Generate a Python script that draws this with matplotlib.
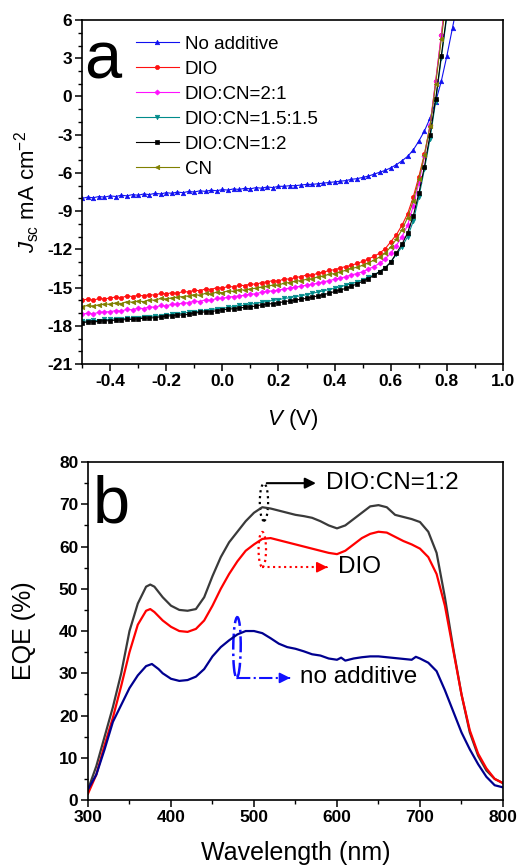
import matplotlib
matplotlib.use('Agg')
import matplotlib.pyplot as plt
from matplotlib.patches import Ellipse
from matplotlib.ticker import MultipleLocator, FormatStrFormatter

plt.rcParams['font.family'] = ['Liberation Sans', 'DejaVu Sans']
plt.rcParams['mathtext.fontset'] = 'custom'
plt.rcParams['mathtext.rm'] = 'Liberation Sans'
plt.rcParams['mathtext.it'] = 'Liberation Sans:italic'
plt.rcParams['axes.unicode_minus'] = False

# ---------------- Panel a data (J-V) ----------------
V = [-0.50, -0.48, -0.46, -0.44, -0.42, -0.40, -0.38, -0.36, -0.34, -0.32,
     -0.30, -0.28, -0.26, -0.24, -0.22, -0.20, -0.18, -0.16, -0.14, -0.12,
     -0.10, -0.08, -0.06, -0.04, -0.02, 0.00, 0.02, 0.04, 0.06, 0.08,
     0.10, 0.12, 0.14, 0.16, 0.18, 0.20, 0.22, 0.24, 0.26, 0.28,
     0.30, 0.32, 0.34, 0.36, 0.38, 0.40, 0.42, 0.44, 0.46, 0.48,
     0.50, 0.52, 0.54, 0.56, 0.58, 0.60, 0.62, 0.64, 0.66, 0.68,
     0.70, 0.72, 0.74, 0.76, 0.78, 0.80, 0.82, 0.84]

J_none = [-8.0, -7.9, -7.95, -7.85, -7.9, -7.8, -7.85, -7.75, -7.8, -7.7,
          -7.75, -7.65, -7.7, -7.6, -7.65, -7.55, -7.6, -7.5, -7.55, -7.45,
          -7.5, -7.4, -7.45, -7.35, -7.4, -7.3, -7.35, -7.25, -7.3, -7.2,
          -7.25, -7.15, -7.2, -7.1, -7.15, -7.05, -7.05, -7.0, -7.0, -6.95,
          -6.9, -6.9, -6.85, -6.8, -6.75, -6.7, -6.65, -6.6, -6.5, -6.45,
          -6.35, -6.25, -6.1, -5.95, -5.8, -5.6, -5.35, -5.05, -4.7, -4.2,
          -3.5, -2.7, -1.7, -0.4, 1.2, 3.2, 5.4, 7.6]

J_dio = [-16.0, -15.9, -16.0, -15.85, -15.9, -15.8, -15.75, -15.8, -15.65, -15.7,
         -15.6, -15.65, -15.55, -15.6, -15.45, -15.5, -15.4, -15.45, -15.3, -15.35,
         -15.2, -15.25, -15.1, -15.15, -15.0, -15.05, -14.9, -14.95, -14.8, -14.85,
         -14.7, -14.75, -14.6, -14.55, -14.45, -14.5, -14.3, -14.35, -14.2, -14.15,
         -14.0, -14.05, -13.85, -13.8, -13.65, -13.6, -13.45, -13.35, -13.25, -13.1,
         -12.95, -12.75, -12.55, -12.3, -11.95, -11.4, -10.85, -10.1, -9.2, -7.9,
         -6.3, -4.5, -2.3, 1.2, 4.8, 8.5, 12.0, 15.0]

J_21 = [-17.1, -17.0, -17.05, -16.95, -16.9, -16.9, -16.8, -16.85, -16.7, -16.75,
        -16.6, -16.65, -16.5, -16.55, -16.4, -16.45, -16.3, -16.3, -16.2, -16.2,
        -16.05, -16.1, -15.95, -16.0, -15.85, -15.85, -15.75, -15.7, -15.65, -15.6,
        -15.5, -15.5, -15.35, -15.3, -15.25, -15.2, -15.1, -15.05, -14.95, -14.9,
        -14.8, -14.75, -14.65, -14.55, -14.45, -14.35, -14.25, -14.15, -14.0, -13.9,
        -13.75, -13.55, -13.35, -13.1, -12.75, -12.3, -11.7, -11.0, -10.1, -8.6,
        -6.8, -4.7, -2.2, 1.2, 4.8, 8.2, 11.0, 15.0]

J_1515 = [-17.6, -17.65, -17.55, -17.6, -17.5, -17.5, -17.45, -17.45, -17.4, -17.4,
          -17.35, -17.3, -17.3, -17.2, -17.25, -17.15, -17.1, -17.05, -17.0, -16.95,
          -16.9, -16.85, -16.8, -16.75, -16.65, -16.65, -16.55, -16.5, -16.4, -16.4,
          -16.3, -16.25, -16.15, -16.1, -16.0, -15.95, -15.85, -15.8, -15.7, -15.65,
          -15.55, -15.45, -15.35, -15.25, -15.15, -15.05, -14.95, -14.8, -14.7, -14.55,
          -14.4, -14.2, -14.0, -13.75, -13.45, -13.0, -12.4, -11.8, -11.0, -9.8,
          -7.9, -5.7, -3.3, -0.4, 3.0, 6.3, 10.0, 14.0]

J_12 = [-17.75, -17.7, -17.7, -17.65, -17.6, -17.6, -17.55, -17.55, -17.5, -17.5,
        -17.45, -17.4, -17.4, -17.35, -17.3, -17.25, -17.2, -17.15, -17.15, -17.1,
        -17.0, -16.95, -16.9, -16.9, -16.8, -16.75, -16.7, -16.65, -16.6, -16.55,
        -16.5, -16.45, -16.35, -16.3, -16.25, -16.2, -16.1, -16.05, -16.0, -15.9,
        -15.85, -15.75, -15.65, -15.55, -15.45, -15.3, -15.2, -15.05, -14.9, -14.7,
        -14.5, -14.3, -14.05, -13.75, -13.45, -13.0, -12.3, -11.6, -10.7, -9.4,
        -7.6, -5.5, -3.0, -0.2, 3.2, 6.5, 10.0, 14.0]

J_cn = [-16.5, -16.4, -16.45, -16.35, -16.3, -16.3, -16.2, -16.25, -16.1, -16.15,
        -16.05, -16.1, -15.95, -16.0, -15.85, -15.9, -15.8, -15.75, -15.7, -15.65,
        -15.55, -15.6, -15.45, -15.5, -15.35, -15.4, -15.25, -15.3, -15.15, -15.2,
        -15.1, -15.05, -14.95, -14.9, -14.8, -14.8, -14.65, -14.6, -14.5, -14.45,
        -14.35, -14.3, -14.15, -14.1, -13.95, -13.9, -13.75, -13.65, -13.5, -13.4,
        -13.25, -13.05, -12.85, -12.6, -12.3, -11.8, -11.2, -10.45, -9.5, -8.2,
        -6.5, -4.6, -2.3, 1.0, 4.5, 8.0, 11.0, 15.0]

jv_labels = ['No additive', 'DIO', 'DIO:CN=2:1', 'DIO:CN=1.5:1.5', 'DIO:CN=1:2', 'CN']
jv_series = [J_none, J_dio, J_21, J_1515, J_12, J_cn]
jv_colors = ['#1010f0', '#ff1010', '#ff10ff', '#008b8b', '#000000', '#808000']
jv_markers = ['^', 'o', 'D', 'v', 's', '<']
jv_msize = [3.2, 3.0, 2.6, 3.2, 2.8, 3.2]

# ---------------- Panel b data (EQE) ----------------
wl = [300, 310, 320, 330, 340, 350, 360, 370, 375, 380, 390, 400, 410, 420, 430,
      440, 450, 460, 470, 480, 490, 500, 510, 520, 530, 540, 550, 560, 570, 580,
      590, 600, 610, 620, 630, 640, 650, 660, 670, 680, 690, 700, 710, 720, 730,
      740, 750, 760, 770, 780, 790, 800]
eqe_12 = [2.5, 8.0, 15.0, 22.0, 30.0, 40.0, 46.5, 50.5, 51.0, 50.5, 48.0, 46.0, 45.0, 44.8, 45.2,
          48.0, 53.0, 57.5, 61.0, 63.5, 66.0, 68.0, 69.3, 69.0, 68.5, 68.0, 67.5, 67.2, 66.8, 66.0,
          65.0, 64.3, 65.0, 66.5, 68.0, 69.5, 69.8, 69.3, 67.5, 67.0, 66.5, 65.8, 63.5, 58.5, 48.0,
          36.0, 25.0, 16.0, 10.5, 7.0, 5.0, 4.0]
eqe_dio = [1.5, 6.0, 13.0, 19.5, 27.0, 35.0, 41.5, 44.8, 45.2, 44.5, 42.5, 41.0, 40.0, 39.8, 40.5,
           42.5, 46.0, 50.0, 53.5, 56.5, 59.0, 60.5, 61.8, 62.0, 61.5, 61.0, 60.5, 60.0, 59.5, 59.0,
           58.5, 58.2, 59.0, 60.5, 62.0, 63.0, 63.5, 63.3, 62.3, 61.3, 60.5, 59.5, 57.5, 53.5, 46.0,
           35.5, 25.0, 16.5, 11.0, 7.5, 5.0, 4.0]
wl_none = [300, 310, 320, 330, 340, 350, 360, 370, 377, 385, 390, 400, 410, 420, 430,
           440, 450, 460, 470, 480, 490, 500, 510, 520, 530, 540, 550, 560, 570, 580,
           590, 600, 605, 610, 620, 630, 640, 650, 660, 670, 680, 690, 695, 700, 710,
           720, 730, 740, 750, 760, 770, 780, 790, 800]
eqe_none = [2.5, 6.0, 12.0, 18.5, 22.5, 26.5, 29.5, 31.7, 32.2, 31.0, 30.0, 28.7, 28.2, 28.4, 29.2,
            31.0, 34.0, 36.2, 37.8, 39.2, 40.0, 40.0, 39.5, 38.3, 37.0, 36.2, 35.8, 35.2, 34.5, 34.2,
            33.5, 33.2, 33.7, 33.0, 33.5, 33.8, 34.0, 34.0, 33.8, 33.6, 33.4, 33.2, 33.9, 33.5, 32.5,
            30.5, 26.0, 21.0, 16.0, 12.0, 8.5, 5.5, 3.5, 3.0]

fig = plt.figure(figsize=(5.17, 8.68), dpi=100)
ax1 = fig.add_axes([0.1586, 0.5806, 0.8144, 0.3963])
ax2 = fig.add_axes([0.1702, 0.0783, 0.8027, 0.3894])

# ---- panel a ----
for lab, ys, c, m, ms in zip(jv_labels, jv_series, jv_colors, jv_markers, jv_msize):
    ax1.plot(V, ys, color=c, lw=0.8, marker=m, markersize=ms, markeredgewidth=0.5,
             markeredgecolor=c, label=lab)
ax1.set_xlim(-0.5, 1.0)
ax1.set_ylim(-21, 6)
ax1.set_xticks([-0.4, -0.2, 0.0, 0.2, 0.4, 0.6, 0.8, 1.0])
ax1.xaxis.set_major_formatter(FormatStrFormatter('%.1f'))
ax1.xaxis.set_minor_locator(MultipleLocator(0.1))
ax1.set_yticks([-21, -18, -15, -12, -9, -6, -3, 0, 3, 6])
ax1.yaxis.set_minor_locator(MultipleLocator(1))
ax1.set_xlabel(r'$V$ (V)', fontsize=16, labelpad=13)
ax1.set_ylabel(r'$J_{\mathrm{sc}}$ mA cm$^{-2}$', fontsize=16)
ax1.yaxis.set_label_coords(-0.095, 0.5)
ax1.text(0.005, 0.831, 'a', transform=ax1.transAxes, fontsize=48, va='baseline', ha='left')
leg = ax1.legend(loc='upper left', bbox_to_anchor=(0.128, 0.954), frameon=False,
                 fontsize=13.5, handlelength=2.3, handletextpad=0.3, labelspacing=0.42,
                 borderaxespad=0, borderpad=0, numpoints=1)

# ---- panel b ----
ax2.plot(wl, eqe_12, color='#3a3a3a', lw=1.6)
ax2.plot(wl, eqe_dio, color='#ff0000', lw=1.6)
ax2.plot(wl_none, eqe_none, color='#000090', lw=1.6)
ax2.set_xlim(300, 800)
ax2.set_ylim(0, 80)
ax2.set_xticks([300, 400, 500, 600, 700, 800])
ax2.xaxis.set_minor_locator(MultipleLocator(50))
ax2.set_yticks([0, 10, 20, 30, 40, 50, 60, 70, 80])
ax2.yaxis.set_minor_locator(MultipleLocator(5))
ax2.set_xlabel('Wavelength (nm)', fontsize=18, labelpad=12)
ax2.set_ylabel('EQE (%)', fontsize=18)
ax2.yaxis.set_label_coords(-0.125, 0.5)
ax2.text(0.012, 0.82, 'b', transform=ax2.transAxes, fontsize=48, va='baseline', ha='left')

# annotations
ax2.add_patch(Ellipse((512, 70.5), width=10, height=8.8, fill=False, ec='black', ls=':', lw=1.6))
ax2.annotate('', xy=(578, 75), xytext=(512, 75),
             arrowprops=dict(arrowstyle='-|>', color='black', lw=1.5, mutation_scale=16))
ax2.text(587, 75, 'DIO:CN=1:2', fontsize=17.5, va='center', ha='left')

ax2.add_patch(Ellipse((510, 59.3), width=9, height=8.3, fill=False, ec='#ff0000', ls=':', lw=1.6))
ax2.plot([510, 586], [55.1, 55.1], color='#ff0000', ls=':', lw=1.5)
ax2.annotate('', xy=(592, 55.1), xytext=(584, 55.1),
             arrowprops=dict(arrowstyle='-|>', color='#ff0000', lw=1.2, mutation_scale=16))
ax2.text(601, 55.1, 'DIO', fontsize=17.5, va='center', ha='left')

ax2.add_patch(Ellipse((479.5, 36.1), width=9, height=14.4, angle=-5, fill=False,
                      ec='#1010ff', ls='-.', lw=1.8))
ax2.plot([480, 540], [28.9, 28.9], color='#1010ff', ls='-.', lw=1.5)
ax2.annotate('', xy=(547, 28.9), xytext=(539, 28.9),
             arrowprops=dict(arrowstyle='-|>', color='#1010ff', lw=1.2, mutation_scale=16))
ax2.text(555, 29.1, 'no additive', fontsize=17.5, va='center', ha='left')

for ax in (ax1, ax2):
    for s in ax.spines.values():
        s.set_linewidth(1.2)
    ax.tick_params(which='major', direction='out', length=5, width=1.1, pad=2,
                   top=False, right=False, labelsize=12.5)
    ax.tick_params(which='minor', direction='out', length=3, width=1.0, top=False, right=False)
    for t in ax.get_xticklabels() + ax.get_yticklabels():
        t.set_fontweight('bold')

fig.savefig('out.png', dpi=100)
